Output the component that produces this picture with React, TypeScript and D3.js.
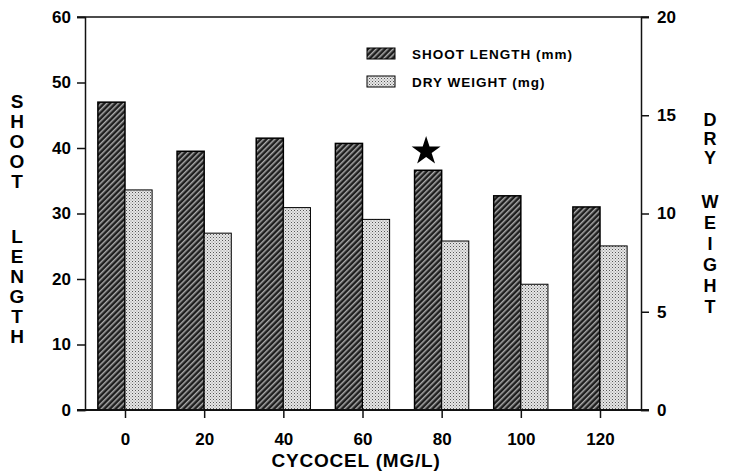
import React, { useRef, useEffect } from 'react';
import * as d3 from 'd3';

const doses = [0, 20, 40, 60, 80, 100, 120];
const shootLength = [47, 39.5, 41.5, 40.7, 36.6, 32.7, 31];
const dryWeight = [11.2, 9.0, 10.3, 9.7, 8.6, 6.4, 8.35];
const leftTicks = [0, 10, 20, 30, 40, 50, 60];
const rightTicks = [0, 5, 10, 15, 20];
const starDose = 80;

const W = 735, H = 472;
const FONT = '"Liberation Sans", Arial, sans-serif';

const App = () => {
  const ref = useRef<SVGSVGElement>(null);

  useEffect(() => {
    const svg = d3.select(ref.current);
    svg.selectAll('*').remove();

    const x = d3.scaleLinear().domain([0, 120]).range([125, 600]);
    const yL = d3.scaleLinear().domain([0, 60]).range([410, 17]);
    const yR = d3.scaleLinear().domain([0, 20]).range([410, 17]);
    const bw = x(6.85) - x(0);

    // patterns
    const defs = svg.append('defs');
    const hatch = defs.append('pattern').attr('id', 'hatch')
      .attr('patternUnits', 'userSpaceOnUse').attr('width', 4).attr('height', 4)
      .attr('patternTransform', 'rotate(45)');
    hatch.append('rect').attr('width', 4).attr('height', 4).attr('fill', '#1e1e1e');
    hatch.append('rect').attr('width', 1.5).attr('height', 4).attr('fill', '#aaa');

    const dots = defs.append('pattern').attr('id', 'dots')
      .attr('patternUnits', 'userSpaceOnUse').attr('width', 3).attr('height', 3);
    dots.append('rect').attr('width', 3).attr('height', 3).attr('fill', '#e6e6e6');
    dots.append('rect').attr('width', 1).attr('height', 1).attr('fill', '#555');
    dots.append('rect').attr('x', 1.5).attr('y', 1.5).attr('width', 1).attr('height', 1).attr('fill', '#888');

    // bars
    svg.append('g').selectAll('rect').data(doses).join('rect')
      .attr('x', (d) => x(d) - bw)
      .attr('y', (d, i) => yL(shootLength[i]))
      .attr('width', bw)
      .attr('height', (d, i) => yL(0) - yL(shootLength[i]))
      .attr('fill', 'url(#hatch)')
      .attr('stroke', '#000').attr('stroke-width', 1.5);

    svg.append('g').selectAll('rect').data(doses).join('rect')
      .attr('x', (d) => x(d))
      .attr('y', (d, i) => yR(dryWeight[i]))
      .attr('width', bw)
      .attr('height', (d, i) => yR(0) - yR(dryWeight[i]))
      .attr('fill', 'url(#dots)')
      .attr('stroke', '#000').attr('stroke-width', 1);

    // frame lines
    const axisCol = '#111';
    svg.append('line').attr('x1', 77).attr('x2', 649).attr('y1', yL(60)).attr('y2', yL(60))
      .attr('stroke', axisCol).attr('stroke-width', 1.5);
    svg.append('line').attr('x1', 77).attr('x2', 649).attr('y1', yL(0)).attr('y2', yL(0))
      .attr('stroke', axisCol).attr('stroke-width', 2);

    // left axis
    const gl = svg.append('g').attr('transform', 'translate(85,0)')
      .call(d3.axisLeft(yL).tickValues(leftTicks).tickSize(8).tickPadding(6));
    // right axis
    const gr = svg.append('g').attr('transform', 'translate(641,0)')
      .call(d3.axisRight(yR).tickValues(rightTicks).tickSize(8).tickPadding(8));
    // bottom axis
    const gb = svg.append('g').attr('transform', `translate(0,${yL(0)})`)
      .call(d3.axisBottom(x).tickValues(doses).tickSize(8).tickPadding(15));

    [gl, gr, gb].forEach((g) => {
      g.select('.domain').attr('stroke', axisCol).attr('stroke-width', 1.5);
      g.selectAll('.tick line').attr('stroke', axisCol).attr('stroke-width', 1.5);
      g.selectAll('.tick text').attr('fill', '#000')
        .style('font-family', FONT).style('font-weight', 'bold').style('font-size', '17px');
    });
    gb.select('.domain').remove();

    // star
    svg.append('path')
      .attr('d', d3.symbol().type(d3.symbolStar).size(260)())
      .attr('transform', `translate(${x(starDose) - bw / 2 - 2},${yL(shootLength[4]) - 19})`)
      .attr('fill', '#000');

    // legend
    const legend = [
      { label: 'SHOOT LENGTH (mm)', fill: 'url(#hatch)', y: 48 },
      { label: 'DRY WEIGHT (mg)', fill: 'url(#dots)', y: 76 },
    ];
    const lg = svg.append('g');
    legend.forEach((l) => {
      lg.append('rect').attr('x', 367).attr('y', l.y).attr('width', 28).attr('height', 11)
        .attr('fill', l.fill).attr('stroke', '#000').attr('stroke-width', 1);
      lg.append('text').attr('x', 412).attr('y', l.y + 11).text(l.label)
        .style('font-family', FONT).style('font-weight', 'bold').style('font-size', '13.5px')
        .style('letter-spacing', '1px');
    });

    // axis titles (stacked letters)
    const stack = (word: string, cx: number, y0: number, pitch: number, size: number) => {
      word.split('').forEach((ch, i) => {
        svg.append('text').attr('x', cx).attr('y', y0 + i * pitch)
          .attr('text-anchor', 'middle').text(ch)
          .style('font-family', FONT).style('font-weight', 'bold').style('font-size', `${size}px`);
      });
    };
    stack('SHOOT', 17, 108, 20, 19);
    stack('LENGTH', 17, 243, 20, 19);
    stack('DRY', 710, 126, 19, 18);
    stack('WEIGHT', 710, 208, 21, 18);

    svg.append('text').attr('x', 356).attr('y', 467).attr('text-anchor', 'middle')
      .text('CYCOCEL (MG/L)')
      .style('font-family', FONT).style('font-weight', 'bold').style('font-size', '19px')
      .style('letter-spacing', '0.8px');
  }, []);

  return <svg ref={ref} width={W} height={H} style={{ position: 'absolute', left: 0, top: 0, background: '#fff' }} />;
};

export default App;
